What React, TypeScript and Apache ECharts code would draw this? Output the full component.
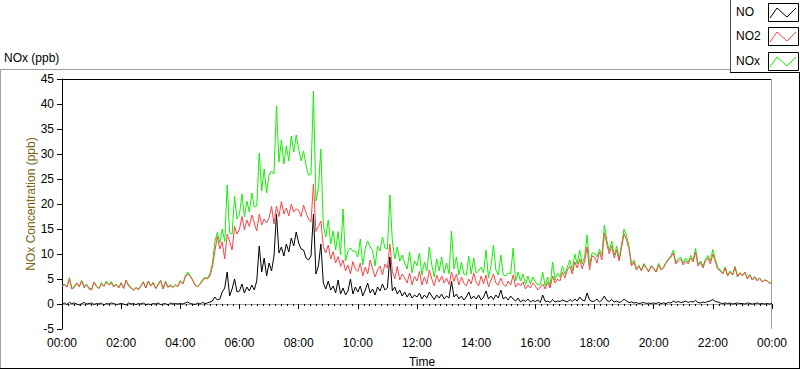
import React, { useEffect, useRef } from "react";
import * as echarts from "echarts";

// Sampling step of the readings (minutes) and the day span
const STEP_MIN = 5;
const DAY_MIN = 1440;

const SERIES_NAMES = ["NO", "NO2", "NOx"];
const Y_TICKS = [-5, 0, 5, 10, 15, 20, 25, 30, 35, 40, 45];

// NO (ppb), one value every 5 minutes from 00:00 to 24:00
const NO_VALUES = [
  0, 0.2, -0.1, 0.3, 0.1, 0.2, 0, -0.2, 0.1, 0.3, 0, 0.1,
  0.2, -0.1, 0.1, 0, 0.2, -0.2, 0.1, 0, 0.2, 0.1, -0.1, 0,
  0.1, 0, -0.2, 0.2, 0, 0.1, -0.1, 0.1, 0, 0.2, -0.1, 0,
  -0.1, 0.1, 0, 0.2, -0.1, 0, 0.1, -0.2, 0.2, 0, 0.1, 0,
  0.1, 0, 0.2, 0.4, 0.1, 0, -0.1, 0.2, 0, 0.3, 0.1, 0.2,
  0.4, 0.6, 1.4, 0.8, 1.0, 2.4, 3.2, 6.4, 1.6, 3.0, 5.0, 2.4,
  2.6, 4.0, 2.2, 3.4, 2.6, 3.8, 2.8, 4.6, 11.6, 6.4, 9.2, 5.6,
  8.2, 6.6, 9.6, 18.0, 10.2, 11.4, 9.6, 12.0, 10.4, 13.2, 11.6, 14.4,
  12.2, 11.0, 10.8, 9.2, 8.8, 9.6, 18.0, 6.0, 7.6, 12.0, 4.2, 3.0,
  4.6, 2.8, 3.6, 2.2, 4.8, 2.0, 3.2, 1.8, 2.6, 5.0, 2.0, 3.4,
  2.4, 3.6, 1.6, 2.8, 4.2, 2.2, 3.0, 1.8, 3.4, 2.6, 4.0, 2.8,
  3.2, 9.4, 2.6, 3.4, 2.0, 2.8, 1.6, 2.4, 1.4, 2.2, 1.2, 1.8,
  1.4, 2.2, 1.0, 1.8, 1.2, 2.4, 1.6, 0.9, 1.8, 1.2, 2.0, 1.0,
  1.6, 1.2, 4.6, 1.4, 2.0, 1.0, 1.6, 0.8, 1.4, 2.4, 1.0, 1.6,
  1.0, 1.8, 0.8, 1.4, 2.6, 1.0, 1.6, 0.9, 1.8, 1.2, 2.8, 1.0,
  1.4, 0.8, 1.6, 1.0, 0.6, 1.2, 0.4, 0.8, 0.5, 1.0, 0.4, 0.7,
  0.5, 0.8, 0.3, 1.8, 0.5, 0.6, 0.3, 0.9, 0.4, 0.6, 0.5, 0.8,
  0.6, 0.4, 0.9, 0.5, 1.0, 0.6, 1.4, 0.8, 0.6, 2.2, 0.8, 0.5,
  0.6, 1.0, 0.4, 0.8, 1.6, 0.7, 0.5, 0.9, 0.4, 0.6, 0.3, 0.5,
  1.0, 0.6, 0.3, 0.4, 0.2, 0.3, 0.1, 0.2, 0.3, 0.1, 0.2, 0.1,
  0.2, 0.1, 0.3, 0.1, 0.2, 0.1, 0.3, 0.2, 0.6, 0.3, 0.5, 0.3,
  0.4, 0.6, 0.3, 0.5, 0.4, 0.7, 0.3, 0.2, 0.4, 0.3, 0.5, 0.6,
  0.9, 0.5, 0.4, 0.2, 0.1, 0.2, 0.1, 0.2, 0.0, 0.1, 0.2, 0.1,
  0.1, 0.0, 0.2, 0.1, 0.0, 0.1, 0.2, 0.0, 0.1, 0.0, 0.1, 0.0,
  0.1,
];

// NO2 (ppb)
const NO2_VALUES = [
  3.6, 3.8, 3.4, 5.0, 3.0, 3.3, 4.2, 3.5, 4.6, 3.2, 3.9, 3.0,
  2.8, 4.4, 3.5, 3.1, 4.0, 3.6, 4.4, 3.8, 4.2, 3.4, 3.9, 3.2,
  4.2, 3.1, 4.8, 3.6, 3.2, 2.7, 3.3, 2.8, 3.6, 4.3, 3.2, 4.6,
  3.6, 4.2, 3.1, 3.8, 4.7, 3.0, 4.4, 3.4, 3.6, 3.3, 3.8, 3.5,
  4.5, 4.0, 5.4, 6.0, 5.6, 4.8, 3.8, 3.4, 4.0, 4.6, 5.2, 5.0,
  5.6, 7.4, 10.5, 13.5, 11.0, 12.4, 9.0, 14.0, 12.5, 10.8, 15.5, 14.0,
  15.0, 17.5, 14.8, 16.8, 15.5, 17.8, 16.2, 14.6, 18.0, 15.8, 17.0, 16.2,
  17.2, 19.5, 16.0, 19.6, 17.5, 20.5, 18.0, 19.2, 17.6, 20.0, 18.4, 19.0,
  18.8, 17.5, 19.8, 18.2, 17.0, 16.4, 24.0, 14.5, 15.5, 16.6, 11.5, 10.2,
  11.8, 9.0, 10.5, 8.2, 9.5, 7.5, 8.8, 6.6, 7.8, 6.0, 8.5, 7.0,
  6.5, 8.2, 5.6, 7.4, 6.0, 8.8, 7.0, 5.4, 6.8, 7.6, 5.8, 8.0,
  7.2, 12.0, 6.5, 5.0, 7.5, 4.8, 6.0, 5.2, 4.2, 6.2, 3.8, 5.5,
  4.6, 6.5, 3.8, 5.4, 4.0, 6.8, 5.0, 3.6, 5.8, 4.4, 5.6, 4.2,
  5.2, 3.9, 6.4, 4.5, 6.0, 3.8, 5.4, 4.2, 3.6, 5.0, 4.0, 6.2,
  4.4, 3.6, 5.6, 4.0, 5.8, 3.4, 4.8, 6.0, 4.2, 3.8, 5.2, 4.0,
  3.5, 4.6, 3.8, 5.8, 3.4, 4.2, 3.6, 4.4, 3.0, 3.8, 3.2, 4.2,
  3.6, 2.8, 3.4, 4.0, 3.0, 4.4, 3.2, 5.6, 4.2, 5.0, 4.6, 6.4,
  5.2, 6.8, 7.6, 6.0, 8.4, 7.2, 9.0, 7.0, 8.6, 11.4, 6.8, 9.6,
  9.4, 8.2, 10.4, 8.8, 14.2, 12.0, 10.0, 11.6, 9.2, 10.8, 8.6, 11.4,
  14.0, 12.8, 11.0, 7.6, 8.4, 6.8, 7.6, 6.6, 7.8, 7.2, 6.4, 7.6,
  7.0, 6.4, 7.8, 6.8, 7.2, 8.2, 8.8, 9.4, 10.2, 8.0, 8.6, 9.0,
  7.8, 8.6, 8.0, 9.2, 8.4, 10.4, 7.6, 8.4, 7.2, 8.6, 9.2, 8.0,
  10.0, 8.4, 7.0, 6.6, 6.0, 7.2, 5.6, 6.4, 5.8, 7.4, 5.4, 6.2,
  5.6, 6.4, 5.0, 5.8, 4.8, 5.4, 4.6, 5.2, 4.4, 4.8, 4.6, 4.2,
  4.2,
];

// NOx (ppb)
const NOX_VALUES = [
  3.6, 4.0, 3.4, 5.3, 3.1, 3.6, 4.2, 3.4, 4.7, 3.6, 3.9, 3.2,
  3.0, 4.4, 3.6, 3.1, 4.3, 3.5, 4.6, 3.8, 4.5, 3.6, 3.9, 3.2,
  4.3, 3.2, 4.7, 3.9, 3.3, 2.8, 3.3, 2.9, 3.7, 4.5, 3.2, 4.6,
  3.6, 4.4, 3.1, 4.0, 4.7, 3.0, 4.6, 3.3, 3.9, 3.3, 3.9, 3.5,
  4.7, 4.0, 5.6, 6.4, 5.7, 4.8, 3.7, 3.6, 4.0, 4.9, 5.3, 5.2,
  6.0, 8.0, 12.4, 14.3, 12.2, 15.0, 12.5, 23.8, 14.2, 14.0, 21.5, 17.0,
  18.0, 22.0, 17.4, 20.6, 18.4, 22.2, 19.4, 19.6, 30.2, 22.6, 27.0, 22.2,
  25.8, 26.6, 26.0, 39.6, 28.4, 32.8, 28.0, 31.6, 28.6, 33.6, 30.4, 33.8,
  31.0, 28.6, 30.6, 27.6, 25.8, 26.0, 42.6, 20.6, 23.2, 31.0, 15.8, 13.4,
  16.8, 12.0, 14.6, 10.8, 14.5, 9.8, 19.0, 8.6, 10.6, 11.2, 10.6, 10.6,
  9.4, 13.0, 7.8, 11.2, 12.6, 11.4, 10.6, 7.6, 11.6, 10.6, 13.4, 11.2,
  11.0, 21.8, 12.6, 9.0, 11.4, 8.6, 9.8, 8.2, 7.0, 10.4, 6.2, 8.6,
  7.6, 10.2, 5.8, 8.4, 6.6, 11.4, 7.8, 5.4, 9.0, 6.6, 9.4, 6.2,
  8.2, 6.0, 14.6, 7.0, 9.4, 5.8, 8.4, 6.0, 5.8, 9.6, 6.0, 9.2,
  6.2, 6.6, 7.4, 6.2, 10.8, 5.2, 7.6, 11.8, 6.8, 5.8, 9.8, 5.8,
  5.6, 6.2, 6.0, 11.2, 4.6, 6.4, 4.6, 6.0, 3.9, 5.6, 4.0, 5.4,
  4.4, 3.8, 3.9, 6.4, 3.6, 5.4, 3.6, 8.4, 4.8, 6.2, 5.4, 7.6,
  6.0, 7.4, 8.8, 6.6, 10.0, 8.0, 10.8, 8.0, 9.4, 13.8, 7.8, 10.2,
  10.2, 9.4, 11.0, 9.8, 15.8, 12.8, 10.6, 12.6, 9.8, 11.6, 9.0, 12.0,
  15.0, 13.6, 11.6, 8.0, 8.8, 7.1, 7.7, 6.8, 8.1, 7.3, 6.6, 7.7,
  7.2, 6.5, 8.1, 6.9, 7.4, 8.3, 9.1, 9.6, 10.8, 8.3, 9.1, 9.3,
  8.2, 9.2, 8.3, 9.7, 8.8, 11.1, 7.9, 8.6, 7.6, 8.9, 9.7, 8.6,
  10.9, 8.9, 7.4, 6.8, 6.1, 7.4, 5.7, 6.6, 5.8, 7.5, 5.6, 6.3,
  5.7, 6.4, 5.2, 5.9, 4.8, 5.5, 4.8, 5.2, 4.5, 4.8, 4.7, 4.2,
  4.3,
];

const COLORS = { NO: "#000000", NO2: "#ff4343", NOx: "#11f000" };
const FONT = "'Liberation Sans', Arial, sans-serif";

function toPairs(values: number[]) {
  return values.map((v, i) => [i * STEP_MIN, v]);
}

function fmtTime(m: number) {
  const mm = ((Math.round(m) % DAY_MIN) + DAY_MIN) % DAY_MIN;
  const h = Math.floor(mm / 60);
  const mi = mm % 60;
  return String(h).padStart(2, "0") + ":" + String(mi).padStart(2, "0");
}

export default function App() {
  const ref = useRef<HTMLDivElement>(null);

  useEffect(() => {
    if (!ref.current) return;
    const chart = echarts.init(ref.current, null, { renderer: "svg" });

    const legendItems: any[] = [];
    const legendColors = [COLORS.NO, COLORS.NO2, COLORS.NOx];
    const boxTops = [3, 27, 52];
    SERIES_NAMES.forEach((name, i) => {
      const y0 = boxTops[i];
      legendItems.push({
        type: "text",
        left: 736,
        top: y0 + 10 - 7,
        style: { text: name, fill: "#000", font: `12px ${FONT}` },
      });
      legendItems.push({
        type: "rect",
        shape: { x: 768.5, y: y0 + 0.5, width: 30, height: 18 },
        style: { fill: "#fff", stroke: "#000", lineWidth: 1 },
      });
      legendItems.push({
        type: "polyline",
        shape: {
          points: [
            [770, y0 + 15],
            [777, y0 + 5],
            [787, y0 + 14],
            [796, y0 + 5],
          ],
        },
        style: { stroke: legendColors[i], lineWidth: 1, fill: null },
      });
    });

    const lineEl = (x1: number, y1: number, x2: number, y2: number, c: string) => ({
      type: "line",
      silent: true,
      shape: { x1, y1, x2, y2 },
      style: { stroke: c, lineWidth: 1 },
    });

    chart.setOption({
      animation: false,
      backgroundColor: "#ffffff",
      grid: { left: 62, top: 79, width: 710, height: 250, containLabel: false },
      xAxis: {
        type: "value",
        min: 0,
        max: DAY_MIN,
        interval: 120,
        axisLine: { show: true, lineStyle: { color: "#a0a0a0", width: 1 } },
        axisTick: { show: true, length: 5, lineStyle: { color: "#000" } },
        minorTick: { show: true, splitNumber: 10, length: 2, lineStyle: { color: "#000" } },
        splitLine: { show: false },
        axisLabel: {
          formatter: (v: number) => fmtTime(v),
          color: "#000",
          fontFamily: FONT,
          fontSize: 12,
          margin: 8,
        },
      },
      yAxis: {
        type: "value",
        min: Y_TICKS[0],
        max: Y_TICKS[Y_TICKS.length - 1],
        interval: 5,
        axisLine: { show: true, lineStyle: { color: "#000", width: 1 } },
        axisTick: { show: true, length: 5, lineStyle: { color: "#000" } },
        splitLine: { show: false },
        axisLabel: {
          color: "#000",
          fontFamily: FONT,
          fontSize: 12,
          margin: 8,
        },
      },
      series: [
        {
          name: "NOx",
          type: "line",
          data: toPairs(NOX_VALUES),
          showSymbol: false,
          lineStyle: { color: COLORS.NOx, width: 1 },
          itemStyle: { color: COLORS.NOx },
        },
        {
          name: "NO2",
          type: "line",
          data: toPairs(NO2_VALUES),
          showSymbol: false,
          lineStyle: { color: COLORS.NO2, width: 1 },
          itemStyle: { color: COLORS.NO2 },
        },
        {
          name: "NO",
          type: "line",
          data: toPairs(NO_VALUES),
          showSymbol: false,
          lineStyle: { color: COLORS.NO, width: 1 },
          itemStyle: { color: COLORS.NO },
        },
      ],
      graphic: [
        // outer frame
        lineEl(0, 69.5, 730, 69.5, "#a0a0a0"),
        lineEl(0.5, 69.5, 0.5, 369, "#a0a0a0"),
        lineEl(0, 368.5, 800, 368.5, "#000"),
        lineEl(799.5, 72, 799.5, 369, "#000"),
        // legend frame
        lineEl(730.5, 0, 730.5, 72.5, "#505050"),
        lineEl(730, 72.5, 800, 72.5, "#000"),
        // plot frame top and right
        lineEl(62, 79.5, 772, 79.5, "#000"),
        lineEl(771.5, 79, 771.5, 329, "#a0a0a0"),
        // titles
        {
          type: "text",
          left: 4,
          top: 52,
          style: { text: "NOx (ppb)", fill: "#000", font: `12px ${FONT}` },
        },
        {
          type: "text",
          x: 31,
          y: 204,
          rotation: Math.PI / 2,
          style: {
            text: "NOx Concentration (ppb)",
            fill: "#7a6410",
            font: `12px ${FONT}`,
            align: "center",
            verticalAlign: "middle",
          },
        },
        {
          type: "text",
          x: 422,
          y: 362,
          style: {
            text: "Time",
            fill: "#000",
            font: `12px ${FONT}`,
            align: "center",
            verticalAlign: "middle",
          },
        },
        ...legendItems,
      ],
    });

    return () => chart.dispose();
  }, []);

  return (
    <div
      ref={ref}
      style={{ position: "fixed", left: 0, top: 0, width: 800, height: 369, background: "#fff" }}
    />
  );
}
